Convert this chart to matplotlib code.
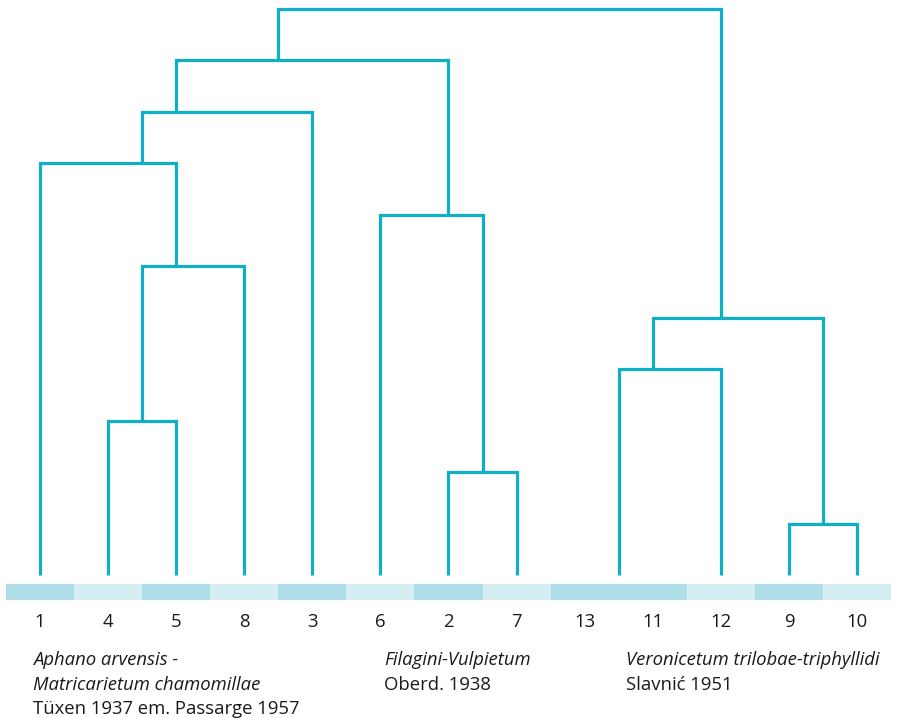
import matplotlib
matplotlib.use("Agg")
import matplotlib.pyplot as plt
import numpy as np

# leaf labels in dendrogram order
leaves = ["1", "4", "5", "8", "3", "6", "2", "7", "13", "11", "12", "9", "10"]
# shade of the strip cell under each leaf (1 = dark, 0 = light)
shade = [1, 0, 1, 0, 1, 0, 1, 0, 1, 1, 0, 1, 0]

# merges, linkage style: clusters 0..12 are leaves, new ones numbered from 13
merge_a = [8, 11, 6, 1, 13, 17, 16, 5, 0, 21, 22, 23]
merge_b = [9, 12, 7, 2, 10, 14, 3, 15, 19, 4, 20, 18]
merge_h = [0, 1, 2, 3, 4, 5, 6, 7, 8, 9, 10, 11]

# association names under the strip (left edge in leaf units)
groups = [
    (-0.10, [("Aphano arvensis -", "italic"), ("Matricarietum chamomillae", "italic"),
             ("Tüxen 1937 em. Passarge 1957", "normal")]),
    (5.06, [("Filagini-Vulpietum", "italic"), ("Oberd. 1938", "normal")]),
    (8.61, [("Veronicetum trilobae-triphyllidi", "italic"), ("Slavnić 1951", "normal")]),
]

line_col = "#0fafc6"
dark, light = "#aedfe8", "#d4edf1"
plt.rcParams["font.family"] = ["Open Sans", "DejaVu Sans"]

fig = plt.figure(figsize=(9.02, 7.18), dpi=100)
ax = fig.add_axes([0, 0, 1, 1])
dx, dy = 68.08, 51.5
ax.set_xlim(-40 / dx, (902 - 40) / dx)
ax.set_ylim((575 - 718) / dy, 575 / dy)
ax.axis("off")

# cluster positions: x = mean of member leaves, height of leaves = 0
n = len(leaves)
members = {i: [i] for i in range(n)}
height = {i: 0.0 for i in range(n)}
for k, (a, b, h) in enumerate(zip(merge_a, merge_b, merge_h)):
    cid = n + k
    members[cid] = members[a] + members[b]
    height[cid] = h
    if h == 0:
        continue  # identical releves: drawn as one stem
    xa, xb = np.mean(members[a]), np.mean(members[b])
    ax.plot([xa, xa, xb, xb], [height[a], h, h, height[b]], color=line_col,
            lw=2.3, solid_joinstyle="miter", solid_capstyle="butt")

# colored strip under the leaves
ax.bar(range(n), 0.31, width=1, bottom=-0.485,
       color=[dark if s else light for s in shade], linewidth=0)

for i, lab in enumerate(leaves):
    ax.text(i, (575 - 627) / dy, lab, ha="center", va="baseline", fontsize=13.3, color="#1a1a1a")

base = [665, 690, 714]
for x0, lines in groups:
    for j, (txt, style) in enumerate(lines):
        ax.text(x0, (575 - base[j]) / dy, txt, ha="left", va="baseline",
                fontsize=13.3, style=style, color="#1a1a1a")

fig.savefig("out.png", dpi=100)
